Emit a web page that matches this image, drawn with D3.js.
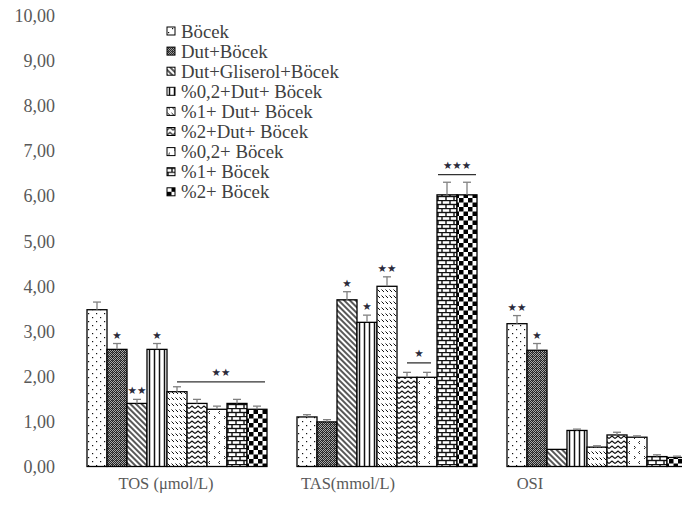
<!DOCTYPE html>
<html>
<head>
<meta charset="utf-8">
<script src="https://cdn.jsdelivr.net/npm/d3@7"></script>
<style>
  html, body { margin: 0; padding: 0; background: #fff; }
  svg { display: block; }
</style>
</head>
<body>
<svg id="chart" width="682" height="505"></svg>
<script>
// Groups along the x axis
const categories = ["TOS (μmol/L)", "TAS(mmol/L)", "OSI"];
// Treatment groups (legend order = bar order within each group)
const seriesNames = [
  "Böcek", "Dut+Böcek", "Dut+Gliserol+Böcek", "%0,2+Dut+ Böcek",
  "%1+ Dut+ Böcek", "%2+Dut+ Böcek", "%0,2+ Böcek", "%1+ Böcek", "%2+ Böcek"
];
// Means per group
const tosValues = [3.48, 2.60, 1.40, 2.60, 1.66, 1.40, 1.27, 1.40, 1.27];
const tasValues = [1.10, 0.99, 3.70, 3.20, 4.00, 1.98, 1.98, 6.03, 6.03];
const osiValues = [3.17, 2.58, 0.38, 0.80, 0.43, 0.70, 0.65, 0.22, 0.20];
// Standard errors
const tosErrors = [0.17, 0.13, 0.09, 0.13, 0.11, 0.09, 0.07, 0.09, 0.07];
const tasErrors = [0.05, 0.05, 0.18, 0.16, 0.21, 0.11, 0.11, 0.28, 0.28];
const osiErrors = [0.18, 0.15, 0.00, 0.03, 0.03, 0.06, 0.03, 0.04, 0.03];
// Y tick values and their labels (decimal comma)
const yTicks = [0, 1, 2, 3, 4, 5, 6, 7, 8, 9, 10];
const yTickLabels = ["0,00", "1,00", "2,00", "3,00", "4,00", "5,00", "6,00", "7,00", "8,00", "9,00", "10,00"];
// Significance marks over single bars: [group, bar, stars]
const barMarks = [
  [0, 1, "★"], [0, 2, "★★"], [0, 3, "★"],
  [1, 2, "★"], [1, 3, "★"], [1, 4, "★★"],
  [2, 0, "★★"], [2, 1, "★"]
];
// Significance brackets: [group, fromBar, toBar, level, stars]
const bracketMarks = [
  [0, 4.5, 8.9, 1.88, "★★"],
  [1, 5.5, 6.7, 2.30, "★"],
  [1, 7.05, 8.95, 6.48, "★★★"]
];

const valueTable = [tosValues, tasValues, osiValues];
const errorTable = [tosErrors, tasErrors, osiErrors];

const svg = d3.select("#chart");
const defs = svg.append("defs");

// ---------- fill patterns ----------
function pattern(id, w, h, draw, transform) {
  const p = defs.append("pattern")
    .attr("id", id)
    .attr("patternUnits", "userSpaceOnUse")
    .attr("width", w).attr("height", h);
  if (transform) p.attr("patternTransform", transform);
  p.append("rect").attr("width", w).attr("height", h).attr("fill", "#fff");
  draw(p);
  return "url(#" + id + ")";
}
const ink = "#111";
const fills = [
  // sparse dots
  pattern("p0", 8, 8, p => {
    p.append("rect").attr("x", 1).attr("y", 1).attr("width", 1.2).attr("height", 1.2).attr("fill", ink);
    p.append("rect").attr("x", 5).attr("y", 5).attr("width", 1.2).attr("height", 1.2).attr("fill", ink);
  }),
  // fine dark checker
  pattern("p1", 4, 4, p => {
    p.select("rect").attr("fill", "#a8a8a8");
    [[0, 0], [2, 0], [1, 1], [3, 1], [0, 2], [2, 2], [1, 3], [3, 3]].forEach(([a, b]) =>
      p.append("rect").attr("x", a).attr("y", b).attr("width", 1).attr("height", 1).attr("fill", "#222"));
    p.append("rect").attr("x", 1).attr("y", 0).attr("width", 1).attr("height", 1).attr("fill", "#555");
  }),
  // dense back-diagonal lines
  pattern("p2", 4, 4, p => {
    p.append("line").attr("x1", 1).attr("y1", 0).attr("x2", 1).attr("y2", 4)
      .attr("stroke", ink).attr("stroke-width", 1.4);
  }, "rotate(-45)"),
  // vertical lines
  pattern("p3", 5, 5, p => {
    p.append("line").attr("x1", 2.5).attr("y1", 0).attr("x2", 2.5).attr("y2", 5)
      .attr("stroke", ink).attr("stroke-width", 1.5);
  }),
  // short back-diagonal dashes
  pattern("p4", 4, 6, p => {
    p.append("line").attr("x1", 0.5).attr("y1", 1.5).attr("x2", 3).attr("y2", 4)
      .attr("stroke", ink).attr("stroke-width", 1);
  }),
  // zigzag waves
  pattern("p5", 6, 5, p => {
    p.append("path").attr("d", "M0,3.5 L3,1 L6,3.5").attr("fill", "none")
      .attr("stroke", ink).attr("stroke-width", 1.1);
  }),
  // divots
  pattern("p6", 10, 10, p => {
    p.append("path").attr("d", "M3,1 L1.5,2.5 L3,4").attr("fill", "none")
      .attr("stroke", ink).attr("stroke-width", 0.9);
    p.append("path").attr("d", "M7,6 L8.5,7.5 L7,9").attr("fill", "none")
      .attr("stroke", ink).attr("stroke-width", 0.9);
  }),
  // horizontal brick
  pattern("p7", 8, 8, p => {
    const g = p.append("g").attr("stroke", ink).attr("stroke-width", 1.4);
    g.append("line").attr("x1", 0).attr("y1", 0.5).attr("x2", 8).attr("y2", 0.5);
    g.append("line").attr("x1", 0).attr("y1", 4.5).attr("x2", 8).attr("y2", 4.5);
    g.append("line").attr("x1", 1).attr("y1", 0).attr("x2", 1).attr("y2", 4.5);
    g.append("line").attr("x1", 5).attr("y1", 4.5).attr("x2", 5).attr("y2", 8);
  }),
  // large checkerboard
  pattern("p8", 9, 9, p => {
    p.append("rect").attr("x", 0).attr("y", 0).attr("width", 4.5).attr("height", 4.5).attr("fill", "#000");
    p.append("rect").attr("x", 4.5).attr("y", 4.5).attr("width", 4.5).attr("height", 4.5).attr("fill", "#000");
  })
];

// ---------- scales ----------
const y = d3.scaleLinear().domain([0, 10]).range([466.5, 16]);
const x0 = d3.scaleBand().domain(categories).range([87, 687]).paddingInner(30 / 210).paddingOuter(0);
const x1 = d3.scaleBand().domain(d3.range(seriesNames.length)).range([0, x0.bandwidth()]).padding(0);
const labelX = d3.scaleBand().domain(categories).range([75, 621]);
const barPos = (g, i) => x0(categories[g]) + i * x1.bandwidth();

// ---------- y axis (labels only) ----------
const yAxis = d3.axisLeft(y).tickValues(yTicks)
  .tickFormat((d, i) => yTickLabels[i]).tickSize(0).tickPadding(0);
const yG = svg.append("g").attr("transform", "translate(55,0)").call(yAxis);
yG.select(".domain").remove();
yG.selectAll("text")
  .attr("font-family", "'Liberation Serif', 'Times New Roman', serif")
  .attr("font-size", 18).attr("fill", "#595959");

// ---------- x axis labels ----------
const xAxis = d3.axisBottom(labelX).tickSize(0).tickPadding(0);
const xG = svg.append("g").attr("transform", "translate(0,477)").call(xAxis);
xG.select(".domain").remove();
xG.selectAll("text")
  .attr("font-family", "'Liberation Serif', 'Times New Roman', serif")
  .attr("font-size", 16.5).attr("fill", "#595959");

// ---------- bars ----------
const rows = [];
categories.forEach((c, g) => {
  seriesNames.forEach((s, i) => {
    rows.push({ g, i, c, v: valueTable[g][i], e: errorTable[g][i] });
  });
});

const groups = svg.append("g").selectAll("g").data(categories).join("g")
  .attr("transform", c => `translate(${x0(c)},0)`);

groups.selectAll("rect.bar")
  .data((c, g) => rows.filter(r => r.g === g))
  .join("rect").attr("class", "bar")
  .attr("x", d => x1(d.i))
  .attr("y", d => y(d.v))
  .attr("width", x1.bandwidth())
  .attr("height", d => y(0) - y(d.v))
  .attr("fill", d => fills[d.i])
  .attr("stroke", "#000").attr("stroke-width", 1.3);

// error bars
const errRows = rows.filter(r => r.e > 0);
const eg = groups.selectAll("g.err")
  .data((c, g) => errRows.filter(r => r.g === g))
  .join("g").attr("class", "err")
  .attr("stroke", "#808080").attr("stroke-width", 1.3);
eg.append("line")
  .attr("x1", d => x1(d.i) + x1.bandwidth() / 2)
  .attr("x2", d => x1(d.i) + x1.bandwidth() / 2)
  .attr("y1", d => y(d.v)).attr("y2", d => y(d.v + d.e));
eg.append("line")
  .attr("x1", d => x1(d.i) + x1.bandwidth() / 2 - 4)
  .attr("x2", d => x1(d.i) + x1.bandwidth() / 2 + 4)
  .attr("y1", d => y(d.v + d.e)).attr("y2", d => y(d.v + d.e));

// ---------- significance marks ----------
const starFont = "'DejaVu Sans', sans-serif";
svg.append("g").selectAll("text").data(barMarks).join("text")
  .attr("x", d => barPos(d[0], d[1]) + x1.bandwidth() / 2)
  .attr("y", d => y(valueTable[d[0]][d[1]] + errorTable[d[0]][d[1]]) - 9)
  .attr("text-anchor", "middle").attr("dominant-baseline", "central")
  .attr("font-family", starFont).attr("font-size", 10.5).attr("fill", "#2a2a3a")
  .text(d => d[2]);

const br = svg.append("g").selectAll("g").data(bracketMarks).join("g");
br.append("line")
  .attr("x1", d => barPos(d[0], d[1])).attr("x2", d => barPos(d[0], d[2]))
  .attr("y1", d => y(d[3])).attr("y2", d => y(d[3]))
  .attr("stroke", "#333").attr("stroke-width", 1.3);
br.append("text")
  .attr("x", d => (barPos(d[0], d[1]) + barPos(d[0], d[2])) / 2)
  .attr("y", d => y(d[3]) - 10)
  .attr("text-anchor", "middle").attr("dominant-baseline", "central")
  .attr("font-family", starFont).attr("font-size", 10.5).attr("fill", "#2a2a3a")
  .text(d => d[4]);

// ---------- legend ----------
const legend = svg.append("g").attr("transform", "translate(167,31)");
const li = legend.selectAll("g").data(seriesNames).join("g")
  .attr("transform", (d, i) => `translate(0,${i * 20.1})`);
li.append("rect").attr("x", 0).attr("y", -4).attr("width", 8).attr("height", 8)
  .attr("fill", (d, i) => fills[i]).attr("stroke", "#000").attr("stroke-width", 1);
li.append("text").attr("x", 14).attr("y", 0).attr("dominant-baseline", "central")
  .attr("font-family", "'Liberation Serif', 'Times New Roman', serif")
  .attr("font-size", 18.8).attr("fill", "#404040")
  .text(d => d);
</script>
</body>
</html>
